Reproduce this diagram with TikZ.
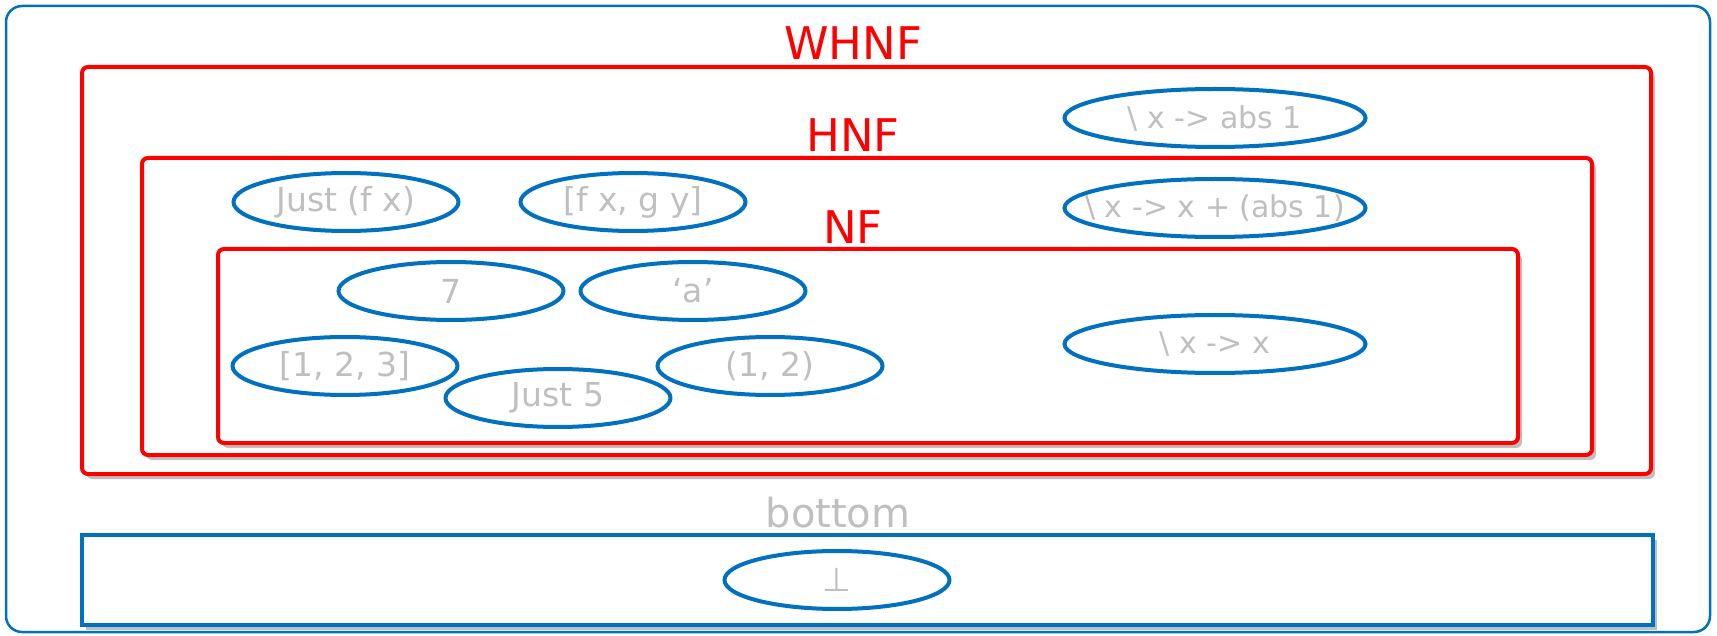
\documentclass[tikz,border=0pt]{standalone}
\usepackage{fontspec}
\setmainfont{DejaVu Sans}
\usetikzlibrary{shapes.geometric,shadows,positioning}
\definecolor{nfblue}{HTML}{0070C0}
\definecolor{nfred}{HTML}{FF0000}
\definecolor{nfgray}{HTML}{BFBFBF}
\newcommand{\fsz}[1]{\fontsize{#1}{#1}\selectfont}
\tikzset{
  val/.style={ellipse,draw=nfblue,line width=4pt,text=nfgray,inner sep=0pt,
    minimum width=225pt,minimum height=58pt,font=\fsz{33}},
  lam/.style={val,minimum width=301pt,font=\fsz{30}},
  shbox/.style={fill=white,line width=4pt,
    drop shadow={shadow xshift=4pt,shadow yshift=-5pt,opacity=0.5}},
  nfbox/.style={shbox,draw=nfred,rounded corners=6pt},
  nflbl/.style={anchor=base,inner sep=0pt,text=nfred,font=\fsz{45}},
}

\begin{document}
\begin{tikzpicture}[x=1pt,y=-1pt]
   \useasboundingbox (0,0) rectangle (1717,636);
   \node[draw=nfblue,line width=2.5pt,rounded corners=16pt,
     minimum width=1704pt,minimum height=626pt] (all) at (858,319) {};
   \node[nfbox,minimum width=1569pt,minimum height=407pt] (whnf) at (866.5,270.5) {};
   \node[nfbox,minimum width=1450pt,minimum height=297pt] (hnf) at (867,306.5) {};
   \node[nfbox,minimum width=1300pt,minimum height=194pt] (nf) at (868,346) {};
   \node[shbox,draw=nfblue,minimum width=1571pt,minimum height=90pt] (botbox) at (867.5,580) {};
   \node[nflbl] (whnflbl) at ([xshift=-13.5pt,yshift=5pt]whnf.north) {WHNF};
   \node[nflbl] (hnflbl) at ([xshift=-14pt,yshift=4pt]hnf.north) {HNF};
   \node[nflbl] (nflbl) at ([xshift=-15pt,yshift=3pt]nf.north) {NF};
   \node[nflbl,text=nfgray,font=\fsz{40}] (botlbl) at ([xshift=-29.5pt,yshift=6pt]botbox.north) {bottom};
   \foreach \nm/\x/\y/\txt in {justfx/346/202/{Just (f x)}, fxgy/633/202/{[f x, g y]},
       seven/451/291/{7}, chara/693/291/{`a'}, list/345/366/{[1, 2, 3]},
       justfive/558/398/{Just 5}, pair/770/366/{(1, 2)}, bot/837/580/{⊥}}
     \node[val] (\nm) at (\x,\y) {\makebox[0pt]{\txt}};
   \foreach \nm/\y/\txt in {absone/118/{\textbackslash{} x -> abs 1},
       absplus/208/{\textbackslash{} x -> x + (abs 1)}, ident/344/{\textbackslash{} x -> x}}
     \node[lam] (\nm) at (1215,\y) {\makebox[0pt]{\txt}};
\end{tikzpicture}
\end{document}
